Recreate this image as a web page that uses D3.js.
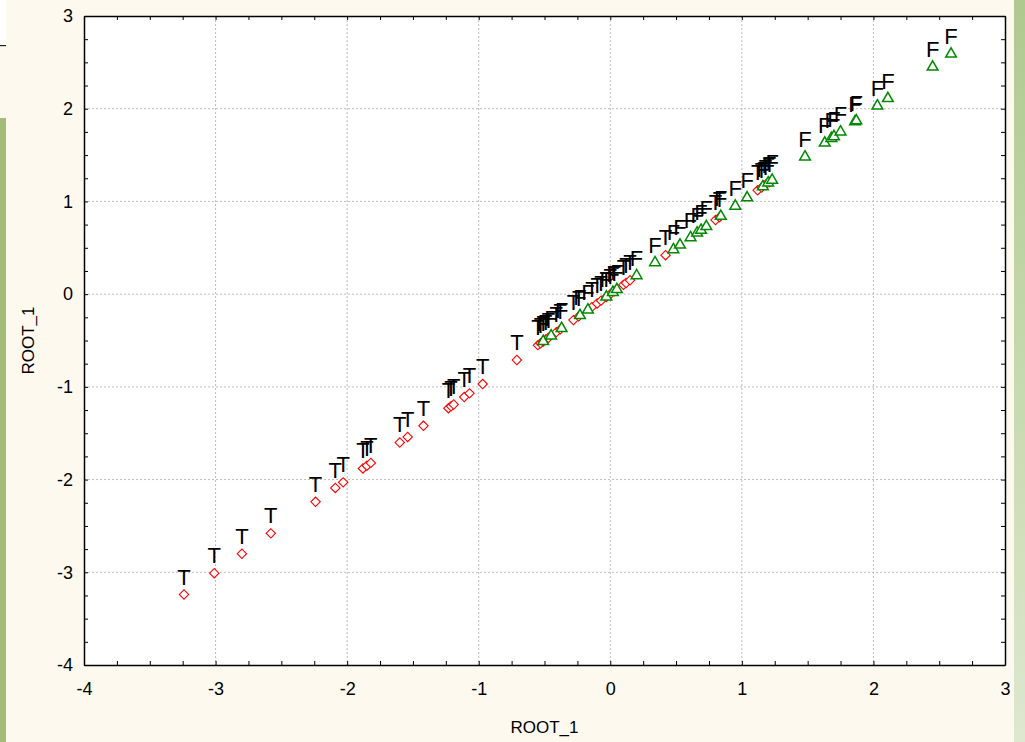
<!DOCTYPE html>
<html>
<head>
<meta charset="utf-8">
<script src="https://cdn.jsdelivr.net/npm/d3@7"></script>
<style>
  body { margin: 0; background: #fdf9ee; }
  svg { display: block; font-family: "Liberation Sans", Arial, sans-serif; }
</style>
</head>
<body>
<div id="chart"></div>
<script>
var W = 1025, H = 742;
var margin = {top: 16, right: 20, bottom: 77, left: 84},
  width = W - margin.left - margin.right,
  height = H - margin.top - margin.bottom;

// Class T cases (red diamonds), ROOT_1 scores
var tScores = [-3.24, -3.01, -2.80, -2.58, -2.24, -2.09, -2.03, -1.88, -1.85, -1.82,
  -1.60, -1.54, -1.42, -1.23, -1.21, -1.19, -1.11, -1.07, -0.97, -0.71,
  -0.55, -0.53, -0.51, -0.49, -0.47, -0.41, -0.38, -0.28, -0.24, -0.14,
  -0.10, -0.07, -0.03, 0.00, 0.03, 0.10, 0.12, 0.15, 0.42, 0.80,
  0.83, 1.12, 1.15, 1.18, 1.21];
// Class F cases (green triangles), ROOT_1 scores
var fScores = [-0.51, -0.45, -0.37, -0.23, -0.17, -0.03, 0.02, 0.05, 0.20, 0.34,
  0.48, 0.53, 0.61, 0.66, 0.69, 0.73, 0.84, 0.95, 1.04, 1.16,
  1.20, 1.23, 1.48, 1.63, 1.68, 1.70, 1.75, 1.86, 1.87, 2.03,
  2.11, 2.45, 2.59];
var xDomain = [-4, 3], yDomain = [-4, 3];
var majorTicks = [-4, -3, -2, -1, 0, 1, 2, 3];
var xTitle = "ROOT_1", yTitle = "ROOT_1";

var svg = d3.select("#chart").append("svg")
  .attr("width", W)
  .attr("height", H);

// screenshot edge strips
svg.append("rect").attr("x", 0).attr("y", 0).attr("width", 6).attr("height", 45).attr("fill", "#ffffff");
svg.append("rect").attr("x", 0).attr("y", 45).attr("width", 6).attr("height", 1.2).attr("fill", "#222");
svg.append("rect").attr("x", 0).attr("y", 118).attr("width", 6).attr("height", H - 118).attr("fill", "#a3bd78");
var grad = svg.append("defs").append("linearGradient")
  .attr("id", "rgrad").attr("x1", 0).attr("y1", 0).attr("x2", 0).attr("y2", 1);
grad.append("stop").attr("offset", "0%").attr("stop-color", "#afc98f");
grad.append("stop").attr("offset", "100%").attr("stop-color", "#dde8cf");
svg.append("rect").attr("x", 1014).attr("y", 0).attr("width", 11).attr("height", H).attr("fill", "url(#rgrad)");

var g = svg.append("g")
  .attr("transform", "translate(" + margin.left + "," + margin.top + ")");

var x = d3.scaleLinear().domain(xDomain).range([0, width]);
var y = d3.scaleLinear().domain(yDomain).range([height, 0]);

g.append("rect")
  .attr("width", width)
  .attr("height", height)
  .attr("fill", "#fff");

// dotted grid
g.append("g").selectAll("line")
  .data(majorTicks.slice(1, -1))
  .enter().append("line")
    .attr("x1", function(d) { return x(d); })
    .attr("x2", function(d) { return x(d); })
    .attr("y1", 0).attr("y2", height)
    .attr("stroke", "#bcbcbc")
    .attr("stroke-dasharray", "2,2");
g.append("g").selectAll("line")
  .data(majorTicks.slice(1, -1))
  .enter().append("line")
    .attr("y1", function(d) { return y(d); })
    .attr("y2", function(d) { return y(d); })
    .attr("x1", 0).attr("x2", width)
    .attr("stroke", "#bcbcbc")
    .attr("stroke-dasharray", "2,2");

// axes: inward ticks on all sides, minor every 0.25
var minor = d3.range(-4, 3.001, 0.25);
var axisDefs = [
  {axis: d3.axisBottom(x), t: "translate(0," + height + ")", labels: true, pad: 17},
  {axis: d3.axisTop(x), t: "translate(0,0)", labels: false, pad: 3},
  {axis: d3.axisLeft(y), t: "translate(0,0)", labels: true, pad: 11},
  {axis: d3.axisRight(y), t: "translate(" + width + ",0)", labels: false, pad: 3}
];
axisDefs.forEach(function(a) {
  var ax = g.append("g").attr("transform", a.t)
    .call(a.axis.tickValues(minor).tickSize(-4).tickSizeOuter(0).tickPadding(a.pad)
      .tickFormat(function(d) {
        return (a.labels && Number.isInteger(d)) ? String(d) : "";
      }));
  ax.select(".domain").attr("stroke", "#000").attr("stroke-width", 1.5);
  ax.selectAll(".tick line").attr("stroke", "#000");
  ax.selectAll(".tick text")
    .attr("fill", "#000")
    .style("font-size", "18px")
    .style("font-family", "'Liberation Sans', Arial, sans-serif");
});

// markers
var diamond = d3.symbol().type(d3.symbolSquare).size(44);
g.append("g").selectAll("path")
  .data(tScores)
  .enter().append("path")
    .attr("d", diamond)
    .attr("transform", function(d) { return "translate(" + x(d) + "," + y(d) + ") rotate(45)"; })
    .attr("fill", "#fff")
    .attr("stroke", "#ff0000")
    .attr("stroke-width", 1.1);

var tri = d3.symbol().type(d3.symbolTriangle).size(50);
g.append("g").selectAll("path")
  .data(fScores)
  .enter().append("path")
    .attr("d", tri)
    .attr("transform", function(d) { return "translate(" + x(d) + "," + y(d) + ")"; })
    .attr("fill", "#fff")
    .attr("stroke", "#008800")
    .attr("stroke-width", 1.5);

// case labels
var labels = tScores.map(function(d) { return {v: d, s: "T"}; })
  .concat(fScores.map(function(d) { return {v: d, s: "F"}; }));
g.append("g").selectAll("text")
  .data(labels)
  .enter().append("text")
    .attr("x", function(d) { return x(d.v); })
    .attr("y", function(d) { return y(d.v) - 10; })
    .attr("text-anchor", "middle")
    .style("font-size", "22px")
    .attr("fill", "#000")
    .text(function(d) { return d.s; });

// axis titles
svg.append("text")
  .attr("x", margin.left + width / 2)
  .attr("y", 733)
  .attr("text-anchor", "middle")
  .style("font-size", "17px")
  .text(xTitle);
svg.append("text")
  .attr("transform", "translate(34," + (margin.top + height / 2) + ") rotate(-90)")
  .attr("text-anchor", "middle")
  .style("font-size", "17px")
  .text(yTitle);
</script>
</body>
</html>
